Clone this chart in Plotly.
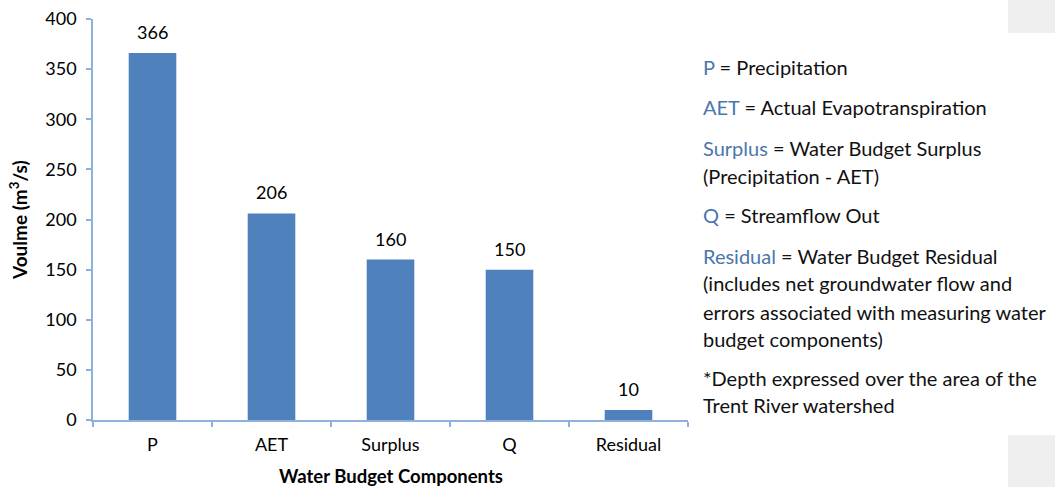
import plotly.graph_objects as go

categories = ["P", "AET", "Surplus", "Q", "Residual"]
values = [366, 206, 160, 150, 10]
y_ticks = [0, 50, 100, 150, 200, 250, 300, 350, 400]
x_title = "Water Budget Components"
y_title = "Voulme (m<sup>3</sup>/s)"

legend_lines = [
    ("P", " = Precipitation"),
    ("AET", " = Actual Evapotranspiration"),
    ("Surplus", " = Water Budget Surplus"),
    ("", "(Precipitation - AET)"),
    ("Q", " = Streamflow Out"),
    ("Residual", " = Water Budget Residual"),
    ("", "(includes net groundwater flow and"),
    ("", "errors associated with measuring water"),
    ("", "budget components)"),
    ("", "*Depth expressed over the area of the"),
    ("", "Trent River watershed"),
]
legend_y_px = [67, 107, 148, 176, 215, 256, 283, 312, 339, 378, 405]

W, H = 1055, 487
L, R, T, B = 93, 688, 19, 420
FONT = "Lato"
BAR = "#4F81BD"
AXIS = "#8DB0DD"
TERM = "#4A76AE"

fig = go.Figure()
fig.add_trace(go.Bar(x=categories, y=values, marker=dict(color=BAR, line=dict(width=0)),
                     hoverinfo="skip"))

for c, v in zip(categories, values):
    fig.add_annotation(x=c, y=v, text=str(v), showarrow=False, yanchor="bottom",
                       yshift=8, font=dict(family=FONT, size=18, color="#000"))

def py(ypix):
    return (B - ypix) / (B - T)

def pxx(xpix):
    return (xpix - L) / (R - L)

for (term, rest), yp in zip(legend_lines, legend_y_px):
    txt = (f"<span style='color:{TERM}'>{term}</span>" if term else "") + rest
    fig.add_annotation(xref="paper", yref="paper", x=pxx(701), y=py(yp), text=txt,
                       showarrow=False, xanchor="left", yanchor="middle", align="left",
                       font=dict(family=FONT, size=20, color="#111"))

# axis titles
fig.add_annotation(xref="paper", yref="paper", x=0.5, y=py(476), text=f"<b>{x_title}</b>",
                   showarrow=False, xanchor="center", yanchor="middle",
                   font=dict(family=FONT, size=18.5, color="#000"))
fig.add_annotation(xref="paper", yref="paper", x=pxx(18), y=py(220), text=f"<b>{y_title}</b>",
                   showarrow=False, xanchor="center", yanchor="middle", textangle=-90,
                   font=dict(family=FONT, size=19, color="#000"))

# grey corner boxes
fig.add_shape(type="rect", xref="paper", yref="paper", x0=pxx(1008), x1=pxx(1060),
              y0=py(-5), y1=py(33), fillcolor="#EFEFEF", line=dict(width=0), layer="below")
fig.add_shape(type="rect", xref="paper", yref="paper", x0=pxx(1008), x1=pxx(1060),
              y0=py(492), y1=py(435), fillcolor="#EFEFEF", line=dict(width=0), layer="below")

fig.update_layout(
    width=W, height=H,
    margin=dict(l=L, r=W - R, t=T, b=H - B, pad=0, autoexpand=False),
    plot_bgcolor="white", paper_bgcolor="white",
    bargap=0.6, showlegend=False,
    font=dict(family=FONT, size=18, color="#000"),
)
fig.update_xaxes(
    showline=True, linecolor=AXIS, linewidth=1.5, ticks="outside", tickson="boundaries",
    tickcolor=AXIS, ticklen=5, tickwidth=1.5, showgrid=False, automargin=False,
    tickfont=dict(family=FONT, size=18, color="#000"),
    ticklabelstandoff=8,
)
fig.update_yaxes(
    range=[0, 400], tickvals=y_ticks, showline=True, linecolor=AXIS, linewidth=1.5,
    ticks="outside", tickcolor=AXIS, ticklen=5, tickwidth=1.5, showgrid=False, zeroline=False,
    automargin=False,
    tickfont=dict(family=FONT, size=18, color="#000"),
    ticklabelstandoff=6,
)

css_fix = (
    "var s=document.createElement('style');"
    "s.textContent='html,body{margin:0!important;padding:0!important;overflow:hidden!important;"
    "height:487px!important;width:1055px!important;} .plotly-graph-div{display:block;}';"
    "document.head.appendChild(s);"
)
fig.write_html("out.html", config={"displayModeBar": False}, post_script=css_fix)
